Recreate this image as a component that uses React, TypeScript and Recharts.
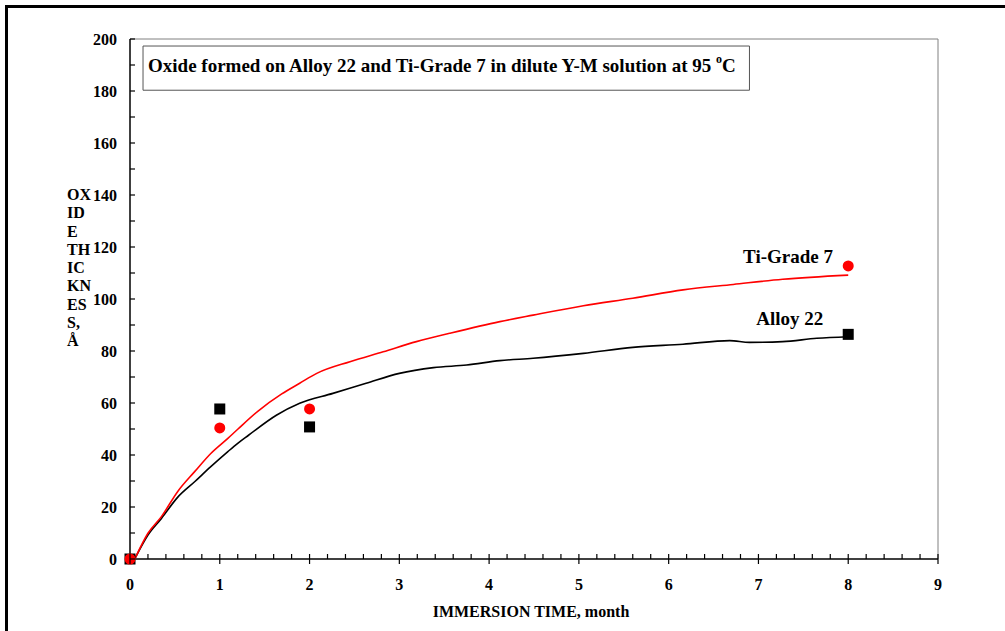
import React from "react"
import {
  ComposedChart,
  Line,
  Scatter,
  XAxis,
  YAxis,
  ReferenceLine,
  ReferenceArea,
  ReferenceDot,
} from "recharts"

// fitted curves
const tiCurveX = [0.06, 0.2, 0.35, 0.53, 0.72, 0.9, 1.09, 1.2, 1.43, 1.69, 1.89, 2.08, 2.45, 2.82, 3.19, 3.56, 4.12, 4.49, 5.05, 5.6, 6.16, 6.72, 7.27, 8.0]
const tiCurveY = [0.5, 9.9, 16.3, 25.9, 33.6, 40.6, 46.4, 49.9, 57.0, 63.5, 67.6, 71.4, 75.9, 79.7, 83.6, 86.8, 91.3, 93.8, 97.4, 100.3, 103.5, 105.6, 107.6, 109.2]

const alloyCurveX = [0.06, 0.2, 0.35, 0.53, 0.72, 0.9, 1.09, 1.2, 1.32, 1.63, 1.89, 2.26, 2.63, 3.0, 3.38, 3.75, 4.12, 4.49, 5.05, 5.6, 6.16, 6.68, 6.9, 7.27, 7.65, 8.0]
const alloyCurveY = [0.5, 9.2, 15.6, 23.7, 29.7, 35.5, 41.3, 44.5, 47.6, 55.3, 59.9, 63.7, 67.6, 71.4, 73.6, 74.6, 76.3, 77.2, 79.1, 81.4, 82.6, 84.0, 83.3, 83.6, 84.9, 85.5]

// measured points
const alloyMonths = [0, 1, 2, 8]
const alloyThickness = [0, 57.7, 50.8, 86.4]
const tiMonths = [0, 1, 2, 8]
const tiThickness = [0, 50.4, 57.7, 112.7]

const xTicks = [
  0, 0.2, 0.4, 0.6, 0.8, 1, 1.2, 1.4, 1.6, 1.8, 2, 2.2, 2.4, 2.6, 2.8, 3, 3.2, 3.4, 3.6, 3.8,
  4, 4.2, 4.4, 4.6, 4.8, 5, 5.2, 5.4, 5.6, 5.8, 6, 6.2, 6.4, 6.6, 6.8, 7, 7.2, 7.4, 7.6, 7.8,
  8, 8.2, 8.4, 8.6, 8.8, 9,
]
const yTicks = [0, 10, 20, 30, 40, 50, 60, 70, 80, 90, 100, 110, 120, 130, 140, 150, 160, 170, 180, 190, 200]
const yTitleLines = ["OX", "ID", "E", "TH", "IC", "KN", "ES", "S,", "Å"]

const tiLine = tiCurveX.map((x, i) => ({ x, y: tiCurveY[i] }))
const alloyLine = alloyCurveX.map((x, i) => ({ x, y: alloyCurveY[i] }))
const alloyPts = alloyMonths.map((x, i) => ({ x, y: alloyThickness[i] }))
const tiPts = tiMonths.map((x, i) => ({ x, y: tiThickness[i] }))

const FONT = "'Liberation Serif', 'Times New Roman', serif"

const XTick = (props: any) => {
  const { x, y, payload } = props
  const v = payload.value
  const major = Math.abs(v - Math.round(v)) < 1e-6
  return (
    <g>
      <line x1={x} x2={x} y1={y - 5} y2={major ? y + 5 : y} stroke="#000" strokeWidth={1.2} />
      {major && (
        <text x={x} y={y + 31} textAnchor="middle" fontFamily={FONT} fontWeight="bold" fontSize={16} fill="#000">
          {Math.round(v)}
        </text>
      )}
    </g>
  )
}

const YTick = (props: any) => {
  const { x, y, payload } = props
  const v = payload.value
  return (
    <g>
      <line x1={x} x2={x + 5} y1={y} y2={y} stroke="#000" strokeWidth={1.2} />
      {v % 20 === 0 && (
        <text x={x - 13} y={y + 5.5} textAnchor="end" fontFamily={FONT} fontWeight="bold" fontSize={16} fill="#000">
          {v}
        </text>
      )}
    </g>
  )
}

const YTitle = (props: any) => {
  const { viewBox } = props
  return (
    <text fontFamily={FONT} fontWeight="bold" fontSize={16} fill="#000">
      {yTitleLines.map((t, i) => (
        <tspan key={t} x={viewBox.x - 3} y={200 + i * 18.25}>
          {t}
        </tspan>
      ))}
    </text>
  )
}

const XTitle = (props: any) => {
  const { viewBox } = props
  return (
    <text
      x={viewBox.x + viewBox.width / 2 - 3}
      y={viewBox.y + 58}
      textAnchor="middle"
      fontFamily={FONT}
      fontWeight="bold"
      fontSize={16}
      fill="#000"
    >
      IMMERSION TIME, month
    </text>
  )
}

const TitleLabel = (props: any) => {
  const { viewBox } = props
  return (
    <text x={viewBox.x + 5} y={viewBox.y + 26} fontFamily={FONT} fontWeight="bold" fontSize={19} fill="#000">
      Oxide formed on Alloy 22 and Ti-Grade 7 in dilute Y-M solution at 95{" "}
      <tspan fontSize={12} dy={-9}>o</tspan>
      <tspan dy={9}>C</tspan>
    </text>
  )
}

const seriesLabel = (text: string) => (props: any) => {
  const { viewBox } = props
  return (
    <text x={viewBox.x} y={viewBox.y} textAnchor="middle" fontFamily={FONT} fontWeight="bold" fontSize={19} fill="#000">
      {text}
    </text>
  )
}

const Square = (props: any) => <rect x={props.cx - 5.5} y={props.cy - 5.5} width={11} height={11} fill="#000" />
const Dot = (props: any) => <circle cx={props.cx} cy={props.cy} r={5.5} fill="#ff0000" />

export default function App() {
  return (
    <div style={{ position: "absolute", left: 0, top: 0, width: 1005, height: 631, background: "#fff" }}>
      <div
        style={{
          position: "absolute",
          left: 5,
          top: 5,
          right: 0,
          bottom: 0,
          borderTop: "3px solid #000",
          borderLeft: "3px solid #000",
        }}
      />
      <ComposedChart
        width={1005}
        height={631}
        margin={{ top: 39, right: 67, bottom: 32, left: 70 }}
        style={{ position: "absolute", left: 0, top: 0 }}
      >
        <XAxis
          type="number"
          dataKey="x"
          domain={[0, 9]}
          ticks={xTicks}
          interval={0}
          height={40}
          tickSize={0}
          tickMargin={0}
          tickLine={false}
          tick={XTick}
          axisLine={{ stroke: "#000", strokeWidth: 1.5 }}
          allowDuplicatedCategory={false}
          label={{ content: XTitle }}
        />
        <YAxis
          type="number"
          dataKey="y"
          domain={[0, 200]}
          ticks={yTicks}
          interval={0}
          width={60}
          tickSize={0}
          tickMargin={0}
          tickLine={false}
          tick={YTick}
          axisLine={{ stroke: "#000", strokeWidth: 1.5 }}
          label={{ content: YTitle }}
        />
        <ReferenceLine y={200} stroke="#808080" strokeWidth={1} />
        <ReferenceLine x={9} stroke="#808080" strokeWidth={1} />
        <ReferenceArea
          x1={0.145}
          x2={6.9}
          y1={180.3}
          y2={197.3}
          stroke="#555"
          strokeWidth={1}
          fill="#fff"
          fillOpacity={1}
          label={{ content: TitleLabel }}
        />
        <Line
          data={alloyLine}
          dataKey="y"
          type="monotone"
          stroke="#000"
          strokeWidth={1.6}
          dot={false}
          activeDot={false}
          isAnimationActive={false}
        />
        <Line
          data={tiLine}
          dataKey="y"
          type="monotone"
          stroke="#ff0000"
          strokeWidth={1.6}
          dot={false}
          activeDot={false}
          isAnimationActive={false}
        />
        <Scatter data={alloyPts} dataKey="y" shape={Square} isAnimationActive={false} />
        <Scatter data={tiPts} dataKey="y" shape={Dot} isAnimationActive={false} />
        <ReferenceDot x={7.33} y={113.8} r={0} fill="none" stroke="none" label={{ content: seriesLabel("Ti-Grade 7") }} />
        <ReferenceDot x={7.35} y={90} r={0} fill="none" stroke="none" label={{ content: seriesLabel("Alloy 22") }} />
      </ComposedChart>
    </div>
  )
}
